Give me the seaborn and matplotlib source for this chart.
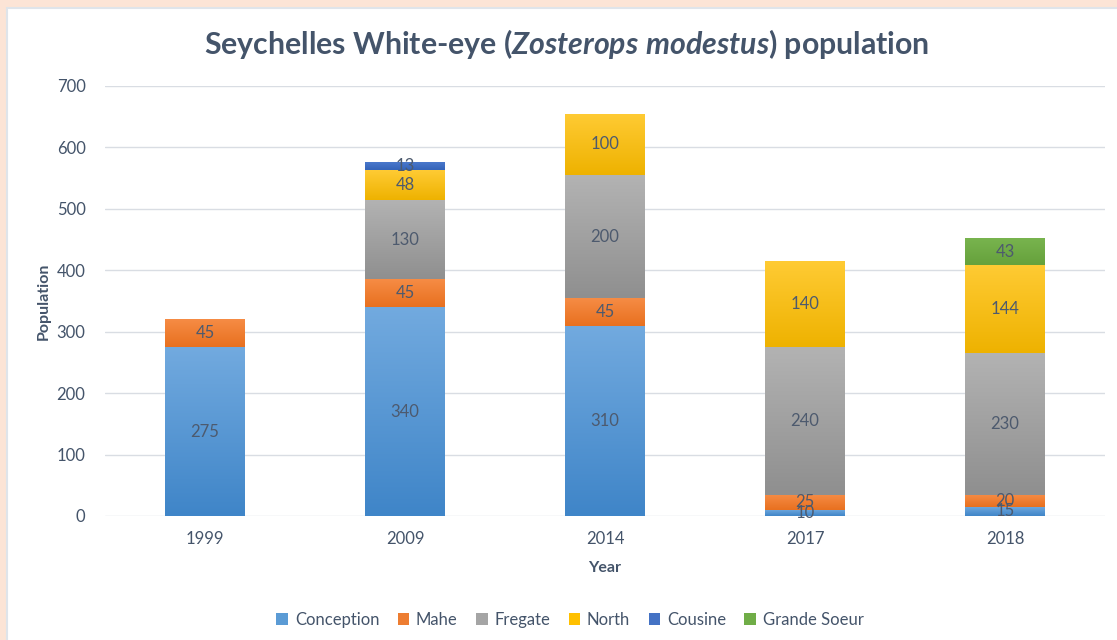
import numpy as np
import pandas as pd
import matplotlib
matplotlib.use("Agg")
import matplotlib.pyplot as plt
from matplotlib.patches import Rectangle
from matplotlib.colors import LinearSegmentedColormap
import seaborn as sns

years = ["1999", "2009", "2014", "2017", "2018"]
conception = [275, 340, 310, 10, 15]
mahe = [45, 45, 45, 25, 20]
fregate = [0, 130, 200, 240, 230]
north = [0, 48, 100, 140, 144]
cousine = [0, 13, 0, 0, 0]
grande_soeur = [0, 0, 0, 0, 43]

series_names = ["Conception", "Mahe", "Fregate", "North", "Cousine", "Grande Soeur"]
series_values = [conception, mahe, fregate, north, cousine, grande_soeur]
# (top colour, bottom colour) for the vertical gradient of each series
series_colors = [
    ("#72aadf", "#3f85c8"),
    ("#f68c45", "#e8701f"),
    ("#b3b3b3", "#8f8f8f"),
    ("#ffcb34", "#eeb200"),
    ("#4a78cc", "#3463b8"),
    ("#78b44e", "#66a13c"),
]
legend_colors = ["#5b9bd5", "#ed7d31", "#a5a5a5", "#ffc000", "#4472c4", "#70ad47"]

text_color = "#44546a"
label_color = "#4d5a6e"
font = ["Lato", "DejaVu Sans"]

sns.set_theme(style="white")
plt.rcParams["font.family"] = font
plt.rcParams["mathtext.fontset"] = "custom"
plt.rcParams["mathtext.it"] = "Lato:italic:bold"
plt.rcParams["mathtext.rm"] = "Lato:bold"

fig = plt.figure(figsize=(11.17, 6.4), dpi=100, facecolor="#fce4d6")
# white chart area inside the peach frame
fig.patches.append(Rectangle((7 / 1117, -0.01), 1.02, (640 - 7.5) / 640 + 0.01,
                             transform=fig.transFigure, facecolor="white",
                             edgecolor="#dfe4ea", linewidth=1.5, zorder=-5))

ax = fig.add_axes([105 / 1117, (640 - 516) / 640, 1000 / 1117, 430 / 640])
ax.set_facecolor("none")

df = pd.DataFrame({"Year": years})
bottom = np.zeros(len(years))
for name, vals, (ctop, cbot) in zip(series_names, series_values, series_colors):
    df[name] = vals
    before = len(ax.patches)
    sns.barplot(data=df, x="Year", y=name, bottom=bottom, color=cbot,
                width=0.4, saturation=1, ax=ax, zorder=2, linewidth=0)
    new = ax.patches[before:]
    cmap = LinearSegmentedColormap.from_list(name, [cbot, ctop])
    grad = np.linspace(0, 1, 256).reshape(-1, 1)
    for p, v, b in zip(new, vals, bottom):
        if v <= 0:
            continue
        x0 = p.get_x()
        w = p.get_width()
        im = ax.imshow(grad, cmap=cmap, origin="lower", aspect="auto",
                       extent=(x0, x0 + w, b, b + v), zorder=2.5,
                       interpolation="bicubic")
        im.set_clip_path(p)
    for i, (v, b) in enumerate(zip(vals, bottom)):
        if v > 0:
            ax.text(i, b + v / 2, f"{v}", ha="center", va="center",
                    fontsize=12, color=label_color, zorder=4)
    bottom = bottom + np.array(vals)

ax.set_xlim(-0.5, 4.5)
ax.set_ylim(0, 700)
ax.set_yticks(range(0, 701, 100))
ax.yaxis.grid(True, color="#d9dde3", linewidth=1)
ax.set_axisbelow(True)
for s in ax.spines.values():
    s.set_visible(False)
ax.tick_params(axis="both", length=0, labelsize=12, labelcolor=text_color)
ax.tick_params(axis="y", pad=14)
ax.tick_params(axis="x", pad=11)
ax.set_xlabel("Year", fontsize=11.5, fontweight="bold", color=text_color, labelpad=10)
ax.set_ylabel("Population", fontsize=11.5, fontweight="bold", color=text_color, labelpad=4)

fig.text(567 / 1117, 1 - 44 / 640,
         r"Seychelles White-eye ($\mathit{Zosterops\ modestus}$) population",
         ha="center", va="center", fontsize=21.8, fontweight="bold", color=text_color)

handles = [Rectangle((0, 0), 1, 1, facecolor=c, edgecolor="none") for c in legend_colors]
fig.legend(handles, series_names, loc="center", bbox_to_anchor=(570 / 1117, 1 - 620 / 640),
           ncol=6, frameon=False, fontsize=12, labelcolor=text_color,
           handlelength=0.7, handleheight=0.7, handletextpad=0.4, columnspacing=1.1)

fig.savefig("out.png", dpi=100, facecolor=fig.get_facecolor())
